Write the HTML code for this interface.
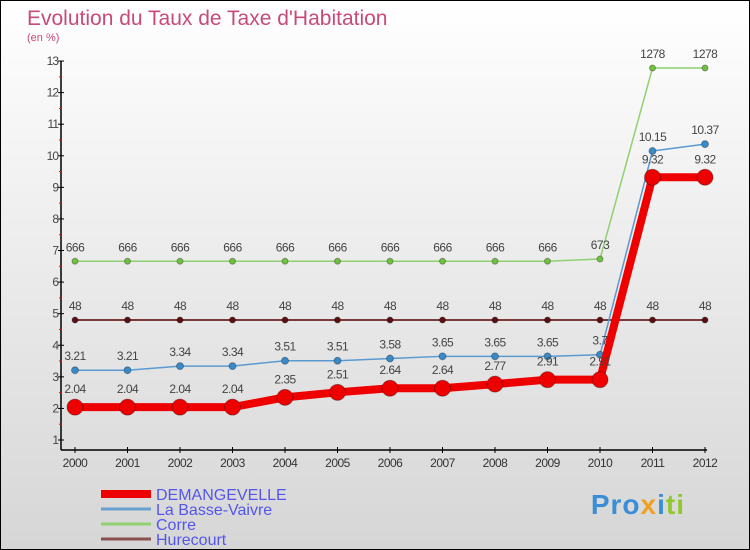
<!DOCTYPE html>
<html><head><meta charset="utf-8"><style>
body{margin:0}
#c{width:748px;height:548px;border:1px solid #000;background:linear-gradient(#fff,#d6d6d6);position:relative;font-family:"Liberation Sans",sans-serif;overflow:hidden}
text{font-family:"Liberation Sans",sans-serif}
</style></head><body>
<div id="c">
<svg id="s" width="748" height="548">
<text x="26" y="24" font-size="21" fill="#c84a7a">Evolution du Taux de Taxe d'Habitation</text>
<text x="26" y="40" font-size="11" fill="#c84a7a">(en %)</text>
<g id="g"></g>
</svg>
<div style="position:absolute;right:64px;top:488px;font-size:28px;font-weight:bold;letter-spacing:1px"><span style="color:#3a8ed8">Pro</span><span style="color:#f0a020">x</span><span style="color:#3a8ed8">i</span><span style="color:#90c830">ti</span></div>
</div>
<script>
const years=[2000,2001,2002,2003,2004,2005,2006,2007,2008,2009,2010,2011,2012];
const seriesNames=["Hurecourt","Corre","La Basse-Vaivre","DEMANGEVELLE"];
const hurecourt=[4.8,4.8,4.8,4.8,4.8,4.8,4.8,4.8,4.8,4.8,4.8,4.8,4.8];
const corre=[6.66,6.66,6.66,6.66,6.66,6.66,6.66,6.66,6.66,6.66,6.73,12.78,12.78];
const basse=[3.21,3.21,3.34,3.34,3.51,3.51,3.58,3.65,3.65,3.65,3.7,10.15,10.37];
const demange=[2.04,2.04,2.04,2.04,2.35,2.51,2.64,2.64,2.77,2.91,2.91,9.32,9.32];
const yTicks=[1,2,3,4,5,6,7,8,9,10,11,12,13];
const NS="http://www.w3.org/2000/svg";
const g=document.getElementById('g');
const X=i=>74+i*52.5, Y=v=>439-(v-1)*31.58;
function mk(t,a,p){const e=document.createElementNS(NS,t);for(const k in a)e.setAttribute(k,a[k]);(p||g).appendChild(e);return e;}
const ax=mk('path',{d:`M60,60V449M60,449H706`,stroke:'#000','stroke-width':1.5,fill:'none'});


yTicks.forEach(v=>{mk('line',{x1:57,x2:63,y1:Y(v),y2:Y(v),stroke:'#000'});
 if(v<13)mk('line',{x1:58,x2:61,y1:Y(v+0.5),y2:Y(v+0.5),stroke:'#f00'});
 const t=mk('text',{x:57,y:Y(v)+4,'font-size':12,fill:'#444','text-anchor':'end','letter-spacing':'-1'});t.textContent=v;
 
 });
years.forEach((y,i)=>{mk('line',{x1:X(i),x2:X(i),y1:446,y2:452,stroke:'#000'});
 const t=mk('text',{x:X(i),y:466,'font-size':12,fill:'#333','text-anchor':'middle','letter-spacing':'-0.5'});t.textContent=y;
 
 });
function series(d,col,w,r,dot,name,lab){
 const l=mk('polyline',{points:d.map((v,i)=>X(i)+','+Y(v)).join(' '),stroke:col,'stroke-width':w,fill:'none','stroke-linejoin':'round'});
 
 
 d.forEach((v,i)=>{const c=mk('circle',{cx:X(i),cy:Y(v),r:r,fill:dot,stroke:'rgba(0,0,0,0.3)','stroke-width':1});
 
 
 const t=mk('text',{x:X(i),y:Y(v)-10-(r>4?4:0),'font-size':12,fill:'#444','text-anchor':'middle','letter-spacing':'-0.5'});t.textContent=lab(v);
 
 });
}
series(hurecourt,'#7a3a3a',2,3,'#5a1010','hurecourt',v=>String(v).replace('.',''));
series(corre,'#90d070',1.5,3,'#70c040','corre',v=>v.toFixed(2).replace('.',''));
series(basse,'#5a9ad0',1.5,3.5,'#3a8ac8','basse-vaivre',v=>v.toFixed(2).replace(/0$/,''));
series(demange,'#ee0000',8,8,'#ee0000','demangevelle',v=>v.toFixed(2));
const leg=[["DEMANGEVELLE",'#ee0000',8],["La Basse-Vaivre",'#6aa0d0',3],["Corre",'#90d070',3],["Hurecourt",'#8a5050',3]];
leg.forEach((e,i)=>{const y=493+i*15;
 mk('line',{x1:100,x2:150,y1:y,y2:y,stroke:e[1],'stroke-width':e[2]});
 const t=mk('text',{x:155,y:y+6,'font-size':16,fill:'#5555ee'});t.textContent=e[0];
 
 });
</script>
</body></html>
